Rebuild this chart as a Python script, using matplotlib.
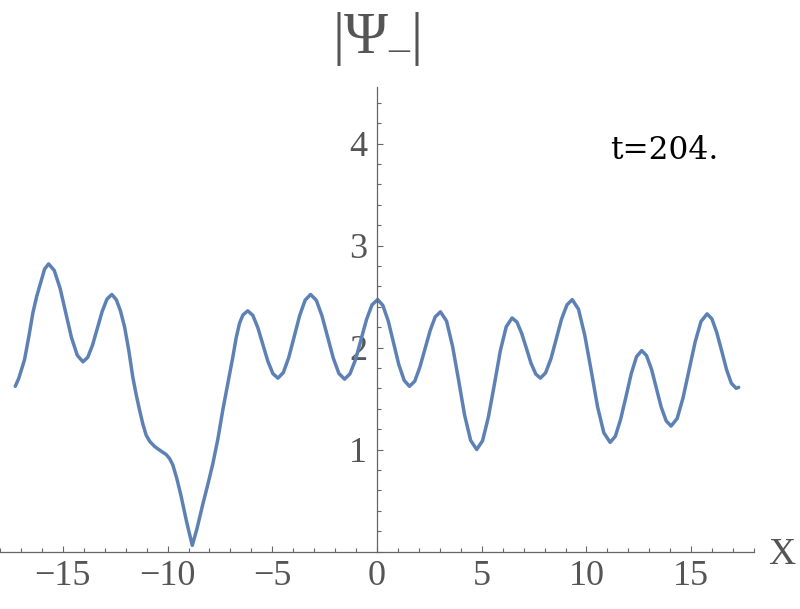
import matplotlib
matplotlib.use("Agg")
import matplotlib.pyplot as plt
from matplotlib.ticker import MultipleLocator, FixedLocator

plt.rcParams["font.family"] = ["Liberation Serif", "DejaVu Serif"]
plt.rcParams["axes.unicode_minus"] = True
plt.rcParams["mathtext.fontset"] = "custom"
plt.rcParams["mathtext.rm"] = "Liberation Serif"
plt.rcParams["mathtext.it"] = "Liberation Serif:italic"

# |Psi_-| profile at t = 204
x_vals = [
    -17.27, -17.1, -16.83, -16.63, -16.43, -16.25, -16.11, -15.87, -15.68,
    -15.41, -15.13, -14.86, -14.59, -14.31, -14.04,
    -13.81, -13.58, -13.35, -13.12, -12.89, -12.66,
    -12.45, -12.25, -12.05, -11.85, -11.66, -11.5, -11.34, -11.18, -11.02,
    -10.85, -10.62, -10.35, -10.06, -9.9, -9.75, -9.55, -9.35, -9.1, -8.82,
    -8.6, -8.31, -8.05, -7.84, -7.6, -7.36, -7.1, -6.88, -6.72, -6.56, -6.4, -6.17,
    -5.93, -5.69, -5.45, -5.21, -4.97, -4.73,
    -4.47, -4.21, -3.95, -3.69, -3.43, -3.17,
    -2.90, -2.63, -2.36, -2.09, -1.82, -1.55,
    -1.29, -1.02, -0.76, -0.50, -0.24, 0.03,
    0.28, 0.54, 0.79, 1.04, 1.30, 1.55,
    1.80, 2.04, 2.29, 2.54, 2.78, 3.03,
    3.32, 3.61, 3.90, 4.18, 4.47, 4.76,
    5.04, 5.32, 5.61, 5.89, 6.17, 6.45,
    6.68, 6.90, 7.13, 7.35, 7.58, 7.80,
    8.05, 8.31, 8.56, 8.81, 9.07, 9.32,
    9.62, 9.92, 10.23, 10.53, 10.83, 11.13,
    11.38, 11.63, 11.89, 12.14, 12.39, 12.64,
    12.87, 13.11, 13.34, 13.57, 13.81, 14.04,
    14.33, 14.61, 14.90, 15.19, 15.47, 15.76,
    15.99, 16.22, 16.46, 16.69, 16.92, 17.15, 17.27,
]
psi_vals = [
    1.62, 1.70, 1.88, 2.10, 2.34, 2.50, 2.60, 2.77, 2.82,
    2.756, 2.58, 2.34, 2.10, 1.924, 1.86,
    1.904, 2.025, 2.19, 2.355, 2.476, 2.52,
    2.47, 2.36, 2.20, 1.97, 1.71, 1.54, 1.39, 1.25, 1.14,
    1.08, 1.03, 0.99, 0.95, 0.91, 0.85, 0.71, 0.54, 0.30, 0.06,
    0.22, 0.47, 0.68, 0.86, 1.10, 1.39, 1.67, 1.91, 2.10, 2.24, 2.32, 2.36,
    2.316, 2.195, 2.03, 1.865, 1.744, 1.70,
    1.755, 1.905, 2.11, 2.315, 2.465, 2.52,
    2.464, 2.313, 2.105, 1.898, 1.746, 1.69,
    1.742, 1.885, 2.08, 2.275, 2.418, 2.47,
    2.413, 2.258, 2.045, 1.833, 1.677, 1.62,
    1.669, 1.803, 1.985, 2.168, 2.301, 2.35,
    2.26, 2.01, 1.675, 1.34, 1.09, 1.00,
    1.086, 1.32, 1.645, 1.97, 2.204, 2.29,
    2.25, 2.143, 1.995, 1.848, 1.74, 1.70,
    1.752, 1.893, 2.085, 2.278, 2.418, 2.47,
    2.376, 2.12, 1.77, 1.42, 1.164, 1.07,
    1.13, 1.295, 1.52, 1.745, 1.91, 1.97,
    1.92, 1.785, 1.60, 1.415, 1.28, 1.23,
    1.304, 1.505, 1.78, 2.055, 2.256, 2.33,
    2.281, 2.148, 1.965, 1.783, 1.649, 1.60, 1.61,
]

x_major = [-15, -10, -5, 0, 5, 10, 15]
y_major = [1, 2, 3, 4]
time_label = "t=204."
y_label = "$|\\mathrm{\\Psi}_{\\mathrm{\u2013}}|$"

axis_gray = "#666666"
text_gray = "#555555"

fig = plt.figure(figsize=(8, 6.09), dpi=100)
ax = fig.add_axes([0.0, 0.0944, 0.9425, 0.762])

ax.plot(x_vals, psi_vals, color="#5E81B5", lw=2.5,
        solid_capstyle="round", solid_joinstyle="round")

ax.set_xlim(-18, 18)
ax.set_ylim(0, 4.55)

for side in ["top", "right"]:
    ax.spines[side].set_visible(False)
ax.spines["left"].set_position(("data", 0))
ax.spines["bottom"].set_position(("data", 0))
for side in ["left", "bottom"]:
    ax.spines[side].set_color(axis_gray)
    ax.spines[side].set_linewidth(0.9)

ax.xaxis.set_major_locator(FixedLocator(x_major))
ax.xaxis.set_minor_locator(MultipleLocator(1))
ax.yaxis.set_major_locator(FixedLocator(y_major))
ax.yaxis.set_minor_locator(MultipleLocator(0.2))

ax.tick_params(which="both", direction="in", color=axis_gray, width=0.8,
               labelcolor=text_gray, labelsize=26)
ax.tick_params(which="major", length=4.5)
ax.tick_params(which="minor", length=2.7)
ax.tick_params(axis="x", pad=6)
ax.tick_params(axis="y", pad=7)
ax.set_xticklabels([str(v).replace("-", "\u2212") for v in x_major])
ax.set_yticklabels([str(v) for v in y_major])

fig.text(782 / 800, 1 - 555 / 609, "X", ha="center", va="center",
         fontsize=27, color=text_gray)

fig.text(376.5 / 800, 1 - 38.5 / 609, y_label, ha="center", va="center",
         fontsize=43, color=text_gray)

fig.text(610 / 800, 1 - 159.3 / 609, time_label, ha="left", va="baseline",
         fontsize=22.5, color="black", family="DejaVu Serif")

fig.savefig("out.png", dpi=100)
